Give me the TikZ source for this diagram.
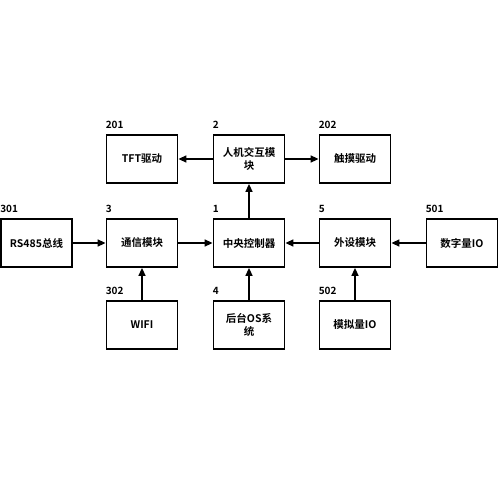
\documentclass[tikz,border=0pt]{standalone}
\usepackage{fontspec}
\setmainfont{Noto Sans CJK SC}[BoldFont={Noto Sans CJK SC Bold}]
\usetikzlibrary{arrows.meta}
\begin{document}
\begin{tikzpicture}[x=1pt,y=-1pt,
  blk/.style={draw,line width=1.8pt,minimum width=71pt,minimum height=48pt,inner sep=0pt,align=center,font=\fontsize{10.5}{12.5}\selectfont\bfseries},
  num/.style={anchor=south west,inner sep=0pt,font=\fontsize{10}{12}\selectfont\bfseries},
  arr/.style={line width=1.5pt,-{Triangle[length=8pt,width=7pt]}}]
\useasboundingbox (0,0) rectangle (500,500);
\node[blk] (tft) at (142,159) {TFT驱动};
\node[blk] (hmi) at (249,159) {人机交互模\\块};
\node[blk] (touch) at (355,159) {触摸驱动};
\node[blk] (rs) at (36.5,243) {RS485总线};
\node[blk] (comm) at (142,243) {通信模块};
\node[blk] (cpu) at (249,243) {中央控制器};
\node[blk] (per) at (355,243) {外设模块};
\node[blk] (dig) at (462,243) {数字量IO};
\node[blk] (wifi) at (142,325) {WIFI};
\node[blk] (os) at (249,325) {后台OS系\\统};
\node[blk] (ana) at (355,325) {模拟量IO};
\node[num] (l201) at ([yshift=5pt]tft.north west) {201};
\node[num] (l2) at ([yshift=5pt]hmi.north west) {2};
\node[num] (l202) at ([yshift=5pt]touch.north west) {202};
\node[num] (l301) at ([yshift=5pt]rs.north west) {301};
\node[num] (l3) at ([yshift=5pt]comm.north west) {3};
\node[num] (l1) at ([yshift=5pt]cpu.north west) {1};
\node[num] (l5) at ([yshift=5pt]per.north west) {5};
\node[num] (l501) at ([yshift=5pt]dig.north west) {501};
\node[num] (l302) at ([yshift=5pt]wifi.north west) {302};
\node[num] (l4) at ([yshift=5pt]os.north west) {4};
\node[num] (l502) at ([yshift=5pt]ana.north west) {502};
\draw[arr] (hmi) -- (tft);
\draw[arr] (hmi) -- (touch);
\draw[arr] (cpu) -- (hmi);
\draw[arr] (rs) -- (comm);
\draw[arr] (comm) -- (cpu);
\draw[arr] (per) -- (cpu);
\draw[arr] (dig) -- (per);
\draw[arr] (wifi) -- (comm);
\draw[arr] (os) -- (cpu);
\draw[arr] (ana) -- (per);
\end{tikzpicture}
\end{document}
